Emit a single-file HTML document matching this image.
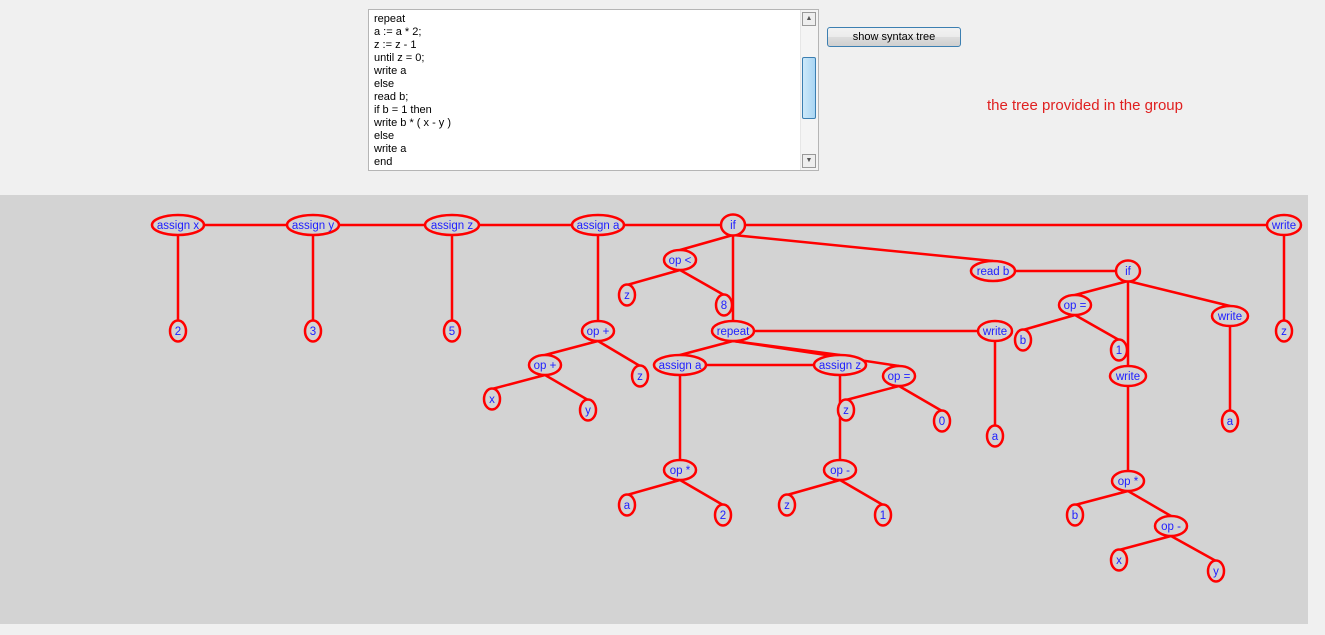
<!DOCTYPE html>
<html><head><meta charset="utf-8"><style>
body{margin:0;width:1325px;height:635px;background:#f0f0f0;position:relative;overflow:hidden;font-family:"Liberation Sans",sans-serif}
#ta{position:absolute;left:368px;top:9px;width:451px;height:162px;background:#fff;border:1px solid #b5b5b5;box-sizing:border-box}
#ta pre{margin:0;position:absolute;left:5px;top:3px;font:11px/13px "Liberation Sans",sans-serif;color:#000}
#sb{position:absolute;right:0;top:0;width:17px;height:100%;background:#f4f4f4;border-left:1px solid #e6e6e6}
.ab{position:absolute;left:1px;width:14px;height:14px;border:1px solid #999;background:#eee;box-sizing:border-box;font-size:7px;text-align:center;line-height:12px;color:#555}
#th{position:absolute;left:1px;top:47px;width:14px;height:62px;border:1px solid #3c7fb1;border-radius:2px;background:linear-gradient(90deg,#cde9f9,#a9d5f3);box-sizing:border-box}
#btn{position:absolute;left:827px;top:27px;width:134px;height:20px;border:1px solid #3c7fb1;border-radius:3px;background:linear-gradient(#f2f2f2,#ebebeb 50%,#dddddd 51%,#cfcfcf);box-sizing:border-box;font-size:11px;text-align:center;line-height:18px}
#lbl{position:absolute;left:987px;top:97px;color:#e02020;font-size:15px}
#gr{position:absolute;left:0;top:195px;width:1308px;height:429px;background:#d3d3d3}
svg{position:absolute;left:0;top:0}
svg text{font:11.5px "Liberation Sans",sans-serif;fill:#2020ff;text-anchor:middle;dominant-baseline:central}
</style></head><body>
<div id="ta"><pre>repeat
a := a * 2;
z := z - 1
until z = 0;
write a
else
read b;
if b = 1 then
write b * ( x - y )
else
write a
end</pre><div id="sb"><div class="ab" style="top:2px">▲</div><div id="th"></div><div class="ab" style="bottom:2px">▼</div></div></div>
<div id="btn">show syntax tree</div>
<div id="lbl">the tree provided in the group</div>
<div id="gr"></div>
<svg width="1325" height="635">
<g stroke="#ff0000" stroke-width="2.5" fill="none">
<line x1="178" y1="225" x2="1284" y2="225"/>
<line x1="178" y1="235" x2="178" y2="321"/>
<line x1="313" y1="235" x2="313" y2="321"/>
<line x1="452" y1="235" x2="452" y2="321"/>
<line x1="598" y1="235" x2="598" y2="321"/>
<line x1="598" y1="341" x2="545" y2="355"/>
<line x1="598" y1="341" x2="640" y2="366"/>
<line x1="545" y1="375" x2="492" y2="389"/>
<line x1="545" y1="375" x2="588" y2="400"/>
<line x1="733" y1="235" x2="680" y2="250"/>
<line x1="733" y1="235" x2="733" y2="321"/>
<line x1="733" y1="235" x2="993" y2="261"/>
<line x1="680" y1="270" x2="627" y2="285"/>
<line x1="680" y1="270" x2="724" y2="295"/>
<line x1="1284" y1="235" x2="1284" y2="321"/>
<line x1="733" y1="331" x2="995" y2="331"/>
<line x1="733" y1="341" x2="680" y2="355"/>
<line x1="733" y1="341" x2="840" y2="355"/>
<line x1="733" y1="341" x2="899" y2="366"/>
<line x1="680" y1="365" x2="840" y2="365"/>
<line x1="680" y1="375" x2="680" y2="460"/>
<line x1="680" y1="480" x2="627" y2="495"/>
<line x1="680" y1="480" x2="723" y2="505"/>
<line x1="840" y1="375" x2="840" y2="460"/>
<line x1="840" y1="480" x2="787" y2="495"/>
<line x1="840" y1="480" x2="883" y2="505"/>
<line x1="899" y1="386" x2="846" y2="400"/>
<line x1="899" y1="386" x2="942" y2="411"/>
<line x1="995" y1="341" x2="995" y2="426"/>
<line x1="993" y1="271" x2="1128" y2="271"/>
<line x1="1128" y1="281" x2="1075" y2="295"/>
<line x1="1128" y1="281" x2="1128" y2="366"/>
<line x1="1128" y1="281" x2="1230" y2="306"/>
<line x1="1075" y1="315" x2="1023" y2="330"/>
<line x1="1075" y1="315" x2="1119" y2="340"/>
<line x1="1230" y1="326" x2="1230" y2="411"/>
<line x1="1128" y1="386" x2="1128" y2="471"/>
<line x1="1128" y1="491" x2="1075" y2="505"/>
<line x1="1128" y1="491" x2="1171" y2="516"/>
<line x1="1171" y1="536" x2="1119" y2="550"/>
<line x1="1171" y1="536" x2="1216" y2="561"/>
</g>
<g stroke="#ff0000" stroke-width="2.5" fill="#d3d3d3">
<ellipse cx="178" cy="225" rx="26" ry="10"/><ellipse cx="313" cy="225" rx="26" ry="10"/><ellipse cx="452" cy="225" rx="27" ry="10"/><ellipse cx="598" cy="225" rx="26" ry="10"/><ellipse cx="733" cy="225" rx="12" ry="10.5"/><ellipse cx="1284" cy="225" rx="17" ry="10"/>
<ellipse cx="178" cy="331" rx="8" ry="10.5"/><ellipse cx="313" cy="331" rx="8" ry="10.5"/><ellipse cx="452" cy="331" rx="8" ry="10.5"/><ellipse cx="1284" cy="331" rx="8" ry="10.5"/>
<ellipse cx="598" cy="331" rx="16" ry="10"/><ellipse cx="545" cy="365" rx="16" ry="10"/><ellipse cx="640" cy="376" rx="8" ry="10.5"/><ellipse cx="492" cy="399" rx="8" ry="10.5"/><ellipse cx="588" cy="410" rx="8" ry="10.5"/>
<ellipse cx="680" cy="260" rx="16" ry="10"/><ellipse cx="627" cy="295" rx="8" ry="10.5"/><ellipse cx="724" cy="305" rx="8" ry="10.5"/>
<ellipse cx="733" cy="331" rx="21" ry="10"/><ellipse cx="995" cy="331" rx="17" ry="10"/><ellipse cx="995" cy="436" rx="8" ry="10.5"/>
<ellipse cx="680" cy="365" rx="26" ry="10"/><ellipse cx="840" cy="365" rx="26" ry="10"/><ellipse cx="899" cy="376" rx="16" ry="10"/>
<ellipse cx="680" cy="470" rx="16" ry="10"/><ellipse cx="627" cy="505" rx="8" ry="10.5"/><ellipse cx="723" cy="515" rx="8" ry="10.5"/>
<ellipse cx="840" cy="470" rx="16" ry="10"/><ellipse cx="787" cy="505" rx="8" ry="10.5"/><ellipse cx="883" cy="515" rx="8" ry="10.5"/>
<ellipse cx="846" cy="410" rx="8" ry="10.5"/><ellipse cx="942" cy="421" rx="8" ry="10.5"/>
<ellipse cx="993" cy="271" rx="22" ry="10"/><ellipse cx="1128" cy="271" rx="12" ry="10.5"/>
<ellipse cx="1075" cy="305" rx="16" ry="10"/><ellipse cx="1023" cy="340" rx="8" ry="10.5"/><ellipse cx="1119" cy="350" rx="8" ry="10.5"/>
<ellipse cx="1230" cy="316" rx="18" ry="10"/><ellipse cx="1230" cy="421" rx="8" ry="10.5"/>
<ellipse cx="1128" cy="376" rx="18" ry="10"/><ellipse cx="1128" cy="481" rx="16" ry="10"/><ellipse cx="1075" cy="515" rx="8" ry="10.5"/><ellipse cx="1171" cy="526" rx="16" ry="10"/><ellipse cx="1119" cy="560" rx="8" ry="10.5"/><ellipse cx="1216" cy="571" rx="8" ry="10.5"/>
</g>
<g>
<text x="178" y="226">assign x</text><text x="313" y="226">assign y</text><text x="452" y="226">assign z</text><text x="598" y="226">assign a</text><text x="733" y="226">if</text><text x="1284" y="226">write</text>
<text x="178" y="332">2</text><text x="313" y="332">3</text><text x="452" y="332">5</text><text x="1284" y="332">z</text>
<text x="598" y="332">op +</text><text x="545" y="366">op +</text><text x="640" y="377">z</text><text x="492" y="400">x</text><text x="588" y="411">y</text>
<text x="680" y="261">op &lt;</text><text x="627" y="296">z</text><text x="724" y="306">8</text>
<text x="733" y="332">repeat</text><text x="995" y="332">write</text><text x="995" y="437">a</text>
<text x="680" y="366">assign a</text><text x="840" y="366">assign z</text><text x="899" y="377">op =</text>
<text x="680" y="471">op *</text><text x="627" y="506">a</text><text x="723" y="516">2</text>
<text x="840" y="471">op -</text><text x="787" y="506">z</text><text x="883" y="516">1</text>
<text x="846" y="411">z</text><text x="942" y="422">0</text>
<text x="993" y="272">read b</text><text x="1128" y="272">if</text>
<text x="1075" y="306">op =</text><text x="1023" y="341">b</text><text x="1119" y="351">1</text>
<text x="1230" y="317">write</text><text x="1230" y="422">a</text>
<text x="1128" y="377">write</text><text x="1128" y="482">op *</text><text x="1075" y="516">b</text><text x="1171" y="527">op -</text><text x="1119" y="561">x</text><text x="1216" y="572">y</text>
</g>
</svg>
</body></html>
